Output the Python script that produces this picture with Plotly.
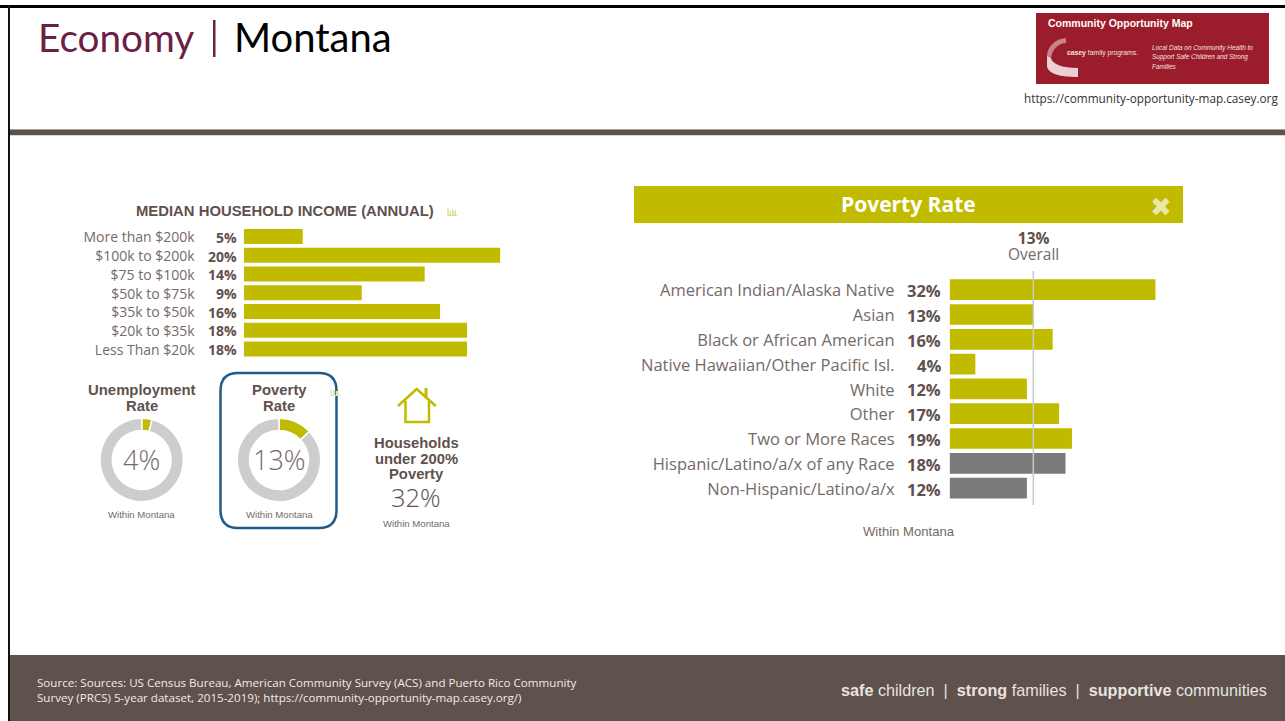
import plotly.graph_objects as go

W, H = 1285, 721

# ---------- data ----------
income_categories = ["More than $200k", "$100k to $200k", "$75 to $100k", "$50k to $75k",
                     "$35k to $50k", "$20k to $35k", "Less Than $20k"]
income_values = [4.6, 20.0, 14.1, 9.2, 15.3, 17.4, 17.4]
income_labels = ["5%", "20%", "14%", "9%", "16%", "18%", "18%"]

race_categories = ["American Indian/Alaska Native", "Asian", "Black or African American",
                   "Native Hawaiian/Other Pacific Isl.", "White", "Other", "Two or More Races",
                   "Hispanic/Latino/a/x of any Race", "Non-Hispanic/Latino/a/x"]
race_values = [32, 13, 16, 4, 12, 17, 19, 18, 12]
race_labels = ["32%", "13%", "16%", "4%", "12%", "17%", "19%", "18%", "12%"]
race_group = ["race"] * 7 + ["ethnicity"] * 2
overall_rate = 13

unemployment_rate = 4
poverty_rate = 13

OLIVE, GREY, RING = "#c1bb00", "#7a7a7a", "#cdcdcd"
BROWN, TXT = "#5f514c", "#756a66"
OS, LS = "Open Sans", "Liberation Sans"


def px(x):
    return x / W


def py(y):
    return 1 - y / H


annotations = []


def text(x, y, s, size, color=TXT, anchor="center", family=OS, weight=None, yref=None, yshift=0):
    f = dict(size=size, color=color, family=family)
    if weight:
        f["weight"] = weight
    annotations.append(dict(x=px(x), y=y if yref else py(y), xref="paper", yref=yref or "paper",
                            text=s, showarrow=False, xanchor=anchor, yanchor="middle", yshift=yshift,
                            font=f, borderpad=0, borderwidth=0))


def rect(x0, y0, x1, y1, fill, layer="below", opacity=1):
    return dict(type="rect", xref="paper", yref="paper", x0=px(x0), x1=px(x1), y0=py(y0), y1=py(y1),
                fillcolor=fill, line=dict(width=0), layer=layer, opacity=opacity)


def path(points, color=None, fill=None, width=2.5, opacity=1, layer="below"):
    d = "M" + " L".join(f"{px(a):.5f},{py(b):.5f}" for a, b in points)
    return dict(type="path", xref="paper", yref="paper", path=d, opacity=opacity, layer=layer,
                fillcolor=fill or "rgba(0,0,0,0)",
                line=dict(color=color or "rgba(0,0,0,0)", width=width))


fig = go.Figure()

# ---------- bars ----------
fig.add_trace(go.Bar(y=income_categories, x=income_values, orientation="h", width=0.8,
                     marker=dict(color=OLIVE, line=dict(width=0)), xaxis="x", yaxis="y",
                     showlegend=False, hoverinfo="skip"))
fig.add_trace(go.Bar(y=race_categories, x=race_values, orientation="h", width=0.835,
                     marker=dict(color=[OLIVE if g == "race" else GREY for g in race_group],
                                 line=dict(width=0)),
                     xaxis="x2", yaxis="y2", showlegend=False, hoverinfo="skip"))

# ---------- donuts ----------
for cx, val in ((141.7, unemployment_rate), (279, poverty_rate)):
    cy, r = 460, 41.7
    fig.add_trace(go.Pie(values=[val, 100 - val], sort=False, direction="clockwise", rotation=0,
                         hole=0.705, textinfo="none", hoverinfo="skip", showlegend=False,
                         marker=dict(colors=[OLIVE, RING], line=dict(color="white", width=1.5)),
                         domain=dict(x=[px(cx - r), px(cx + r)], y=[py(cy + r), py(cy - r)])))
    text(cx, cy - 0.8, f"{val}%", 27, TXT, weight=300)

# ---------- row labels ----------
for c, lab in zip(income_categories, income_labels):
    text(237, c, lab, 14, BROWN, "right", weight=700, yref="y", yshift=-0.8)
for c, lab in zip(race_categories, race_labels):
    text(941.5, c, lab, 16.5, BROWN, "right", weight=700, yref="y2", yshift=-1)

# ---------- frame and furniture ----------
shapes = [
    rect(0, 5, W, 8, "#000000"),
    rect(8, 5, 10, H, "#111111"),
    rect(10, 129, W, 130, "#a8a09c"),
    rect(10, 130, W, 135, BROWN),
    rect(10, 135, W, 136, "#d8d4d2"),
    rect(10, 655, W, H, BROWN),
    rect(1036, 13, 1269, 84, "#9b1c2a"),
    rect(634, 186, 1183, 223, OLIVE),
    # logo swoosh: faded upper arc, brighter lower band
    dict(type="path", xref="paper", yref="paper", layer="below", fillcolor="white", opacity=0.45,
         line=dict(width=0),
         path=(f"M{px(1066)},{py(38)} C{px(1054)},{py(39)} {px(1047)},{py(48)} {px(1047)},{py(56)} "
               f"L{px(1051)},{py(58)} C{px(1052)},{py(50)} {px(1058)},{py(43)} {px(1066)},{py(43)} Z")),
    dict(type="path", xref="paper", yref="paper", layer="below", fillcolor="white", opacity=0.8,
         line=dict(width=0),
         path=(f"M{px(1047)},{py(56)} L{px(1047)},{py(66)} C{px(1048)},{py(74)} {px(1060)},{py(77)} "
               f"{px(1078)},{py(77)} L{px(1078)},{py(68)} C{px(1062)},{py(68)} {px(1052)},{py(64)} "
               f"{px(1051)},{py(58)} Z")),
    # highlight round the poverty donut
    dict(type="path", xref="paper", yref="paper", layer="below", line=dict(color="#1f5c8b", width=2.5),
         path=(f"M{px(238)},{py(373)} L{px(319)},{py(373)} Q{px(336.5)},{py(373)} {px(336.5)},{py(391)} "
               f"L{px(336.5)},{py(510)} Q{px(336.5)},{py(528)} {px(319)},{py(528)} "
               f"L{px(238)},{py(528)} Q{px(220.5)},{py(528)} {px(220.5)},{py(510)} "
               f"L{px(220.5)},{py(391)} Q{px(220.5)},{py(373)} {px(238)},{py(373)} Z")),
    # house icon
    path([(398, 406), (416.7, 389), (435.7, 406)], OLIVE, width=2.5),
    path([(405.5, 401), (405.5, 422), (429, 422), (429, 401)], OLIVE, width=2.5),
    path([(426, 388), (426, 398)], OLIVE, width=3),
    # title divider
    rect(213, 20, 215.5, 57, "#6b2146"),
    # small chart icons
    path([(448, 208), (448, 215.5), (457, 215.5)], "#dedb8a", width=1.2),
    rect(449.5, 211, 451, 215, "#dedb8a"),
    rect(452, 209.5, 453.5, 215, "#dedb8a"),
    rect(454.5, 210.5, 456, 215, "#dedb8a"),
    path([(331, 389), (331, 395.5), (340, 395.5)], "#e4e2a4", width=1.2),
    rect(333, 390, 335, 395, "#e4e2a4"),
    rect(336, 391, 338.5, 395, "#e4e2a4"),
    # overall reference line, positioned through the x2 axis
    dict(type="line", xref="x2", yref="y2 domain", x0=overall_rate, x1=overall_rate, y0=0, y1=1,
         line=dict(color="#c9c9c9", width=1.5), layer="above"),
]

# ---------- texts ----------
text(38, 37, "Economy", 38.7, "#6b2146", "left", "Lato")
text(234, 37, "Montana", 40, "#000000", "left", "Lato")
text(1048, 23, "Community Opportunity Map", 10.5, "#ffffff", "left", LS, 700)
text(1067, 53.5, "<b>casey</b> family programs.", 6.8, "#f0e4e4", "left", LS)
for yy, s in ((48.5, "Local Data on Community Health to"), (57.5, "Support Safe Children and Strong"),
              (66.5, "Families")):
    text(1152, yy, f"<i>{s}</i>", 6.4, "#f4e4e4", "left", LS)
text(1278, 98, "https://community-opportunity-map.casey.org", 11.75, "#333333", "right", OS)

text(285, 211, "MEDIAN HOUSEHOLD INCOME (ANNUAL)", 14.85, BROWN, family=LS, weight=700)
text(141.7, 390, "Unemployment", 14.9, BROWN, family=LS, weight=700)
text(141.7, 406, "Rate", 14.9, BROWN, family=LS, weight=700)
text(279, 390, "Poverty", 14.9, BROWN, family=LS, weight=700)
text(279, 406, "Rate", 14.9, BROWN, family=LS, weight=700)
text(416, 443, "Households", 14.8, BROWN, family=LS, weight=700)
text(416, 458.5, "under 200%", 14.8, BROWN, family=LS, weight=700)
text(416, 474, "Poverty", 14.8, BROWN, family=LS, weight=700)
text(416, 497, "32%", 25.5, BROWN, weight=300)
for xx, yy in ((141.7, 514.5), (279, 514.5), (416, 523.5)):
    text(xx, yy, "Within Montana", 9.6, TXT, family=LS)

text(908.6, 204, "Poverty Rate", 21, "#ffffff", weight=700)
text(1161, 206.5, "✖", 26, "#e8e6a8", family="DejaVu Sans")
# one text with two lines: the annotation size sets the 16 px line spacing
text(1033.5, 246,
     f'<span style="font-size:15.5px;font-weight:700;fill:{BROWN}">13%</span><br>'
     f'<span style="font-size:15.5px">Overall</span>', 12.3, TXT)
text(908.6, 531.5, "Within Montana", 13.1, TXT, family=LS)

text(37, 682.5, "Source: Sources: US Census Bureau, American Community Survey (ACS) and Puerto Rico Community",
     11.6, "#f0ece8", "left")
text(37, 697.5, "Survey (PRCS) 5-year dataset, 2015-2019); https://community-opportunity-map.casey.org/)",
     11.6, "#f0ece8", "left")
text(1267, 690, "<b>safe</b> children  |  <b>strong</b> families  |  <b>supportive</b> communities",
     16.2, "#e8e4e0", "right", LS)

# ---------- layout ----------
left_top, left_pitch, left_n = 236.5, 18.73, len(income_categories)
right_top, right_pitch = 289.7, 24.8
fig.update_layout(
    width=W, height=H, margin=dict(l=0, r=0, t=0, b=0), autosize=False,
    paper_bgcolor="white", plot_bgcolor="rgba(0,0,0,0)", barmode="overlay",
    font=dict(family=OS, color=TXT),
    xaxis=dict(domain=[px(243.7), px(500.4)], range=[0, 20], visible=False, fixedrange=True),
    yaxis=dict(domain=[py(left_top + (left_n - 0.5) * left_pitch), py(left_top - 0.5 * left_pitch)],
               range=[left_n - 0.5, -0.5], type="category", categoryorder="array",
               categoryarray=income_categories, showgrid=False, zeroline=False, showline=False,
               ticks="", ticklabelstandoff=48, ticklabelshift=-1,
               tickfont=dict(size=14, color=TXT, family=OS), anchor="x"),
    xaxis2=dict(domain=[px(949.6), px(1155.7)], range=[0, 32], visible=False, fixedrange=True),
    yaxis2=dict(domain=[py(505), py(271)], range=[(505 - right_top) / right_pitch, (271 - right_top) / right_pitch],
                type="category", categoryorder="array", categoryarray=race_categories,
                showgrid=False, zeroline=False, showline=False, ticks="", ticklabelstandoff=54,
                ticklabelshift=-1,
                tickfont=dict(size=16.5, color=TXT, family=OS), anchor="x2"),
    shapes=shapes, annotations=annotations,
)

fig.write_html("out.html", config=dict(displayModeBar=False),
               post_script="document.body.style.margin='0';document.body.style.overflow='hidden';")
